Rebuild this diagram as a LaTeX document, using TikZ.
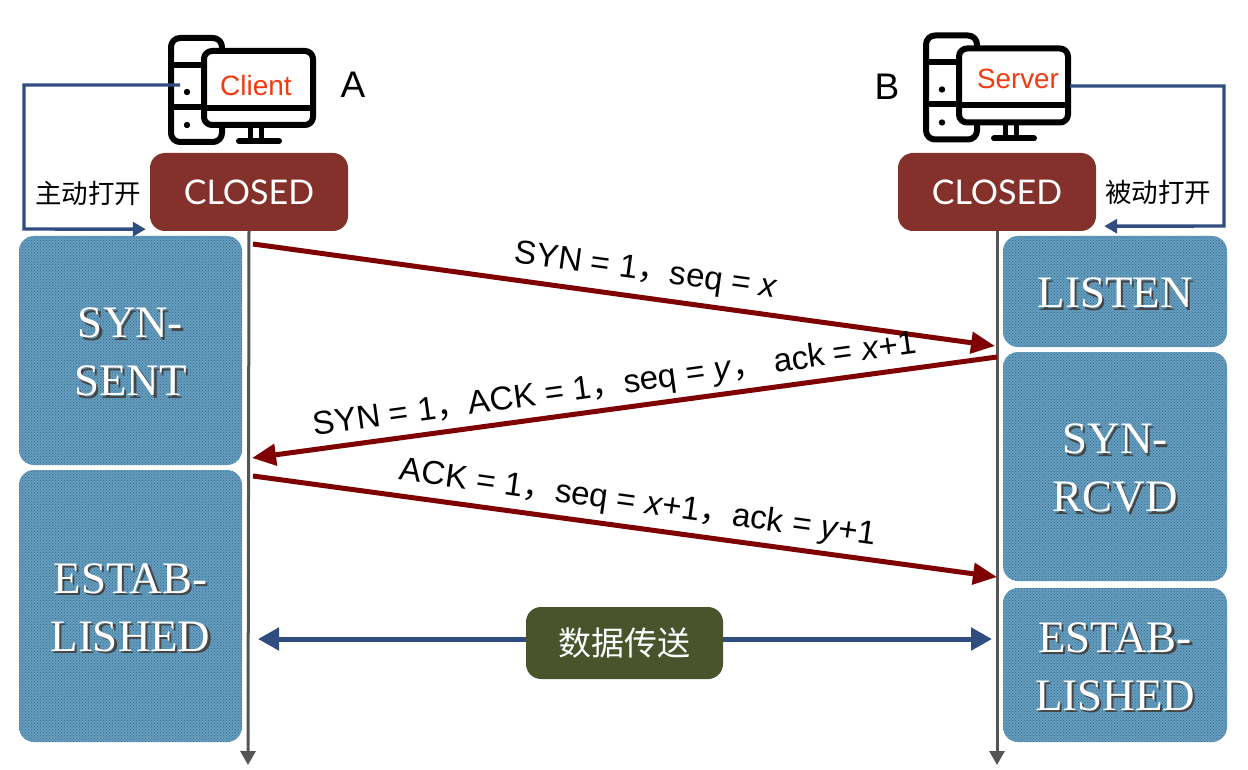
\documentclass[tikz,border=0pt]{standalone}
\usepackage{fontspec}
\setmainfont{Liberation Sans}
\newfontfamily\cjkfont{Noto Sans CJK SC}
\newfontfamily\latofont{Lato}
\newfontfamily\serifcaps{Liberation Serif}
\usetikzlibrary{arrows.meta,patterns,calc}
\definecolor{navyline}{HTML}{2F4D7E}
\definecolor{darkred}{HTML}{7F0000}
\definecolor{closedred}{HTML}{85312B}
\definecolor{lifegray}{HTML}{555555}
\definecolor{olivebox}{HTML}{49532C}
\definecolor{stateblue}{HTML}{669DBD}
\definecolor{statedot}{HTML}{2F6C94}
\definecolor{iconred}{HTML}{F03A12}
\definecolor{shadowgray}{HTML}{454545}
\newcommand{\shadowed}[1]{\leavevmode\rlap{\kern2.4pt\raisebox{-2.4pt}{\textcolor{shadowgray}{#1}}}\textcolor{white}{#1}}
\newcommand{\cm}{{\cjkfont ，}}
\tikzset{
  x=1pt,y=-1pt,
  closedbox/.style={draw=none,fill=closedred,rounded corners=15pt,text=white,font=\latofont\fontsize{34}{38}\selectfont,inner sep=0pt},
  statebox/.style={rounded corners=15pt,fill=stateblue,postaction={pattern=crosshatch dots,pattern color=statedot},inner sep=0pt,align=center,font=\serifcaps\fontsize{45}{58}\selectfont},
  statetext/.style={yshift=-3pt},
  lifeline/.style={draw=lifegray,line width=3pt,-{Triangle[length=14pt,width=15pt]}},
  msg/.style={draw=darkred,line width=5pt,-{Triangle[length=24pt,width=21pt]}},
  loopline/.style={draw=navyline,line width=3.4pt,-{Triangle[length=13pt,width=14pt]}},
  databar/.style={draw=navyline,line width=5pt,{Triangle[length=21pt,width=22pt]}-{Triangle[length=21pt,width=22pt]}},
  msglabel/.style={font=\fontsize{33}{38}\selectfont,inner sep=0pt},
  iconline/.style={draw=black,line width=6pt,line join=round},
  cnlabel/.style={font=\cjkfont\fontsize{26.5}{30}\selectfont,inner sep=0pt},
}
\newcommand{\computer}[2]{%
  \begin{scope}[shift={(#1,#2)}]
    \draw[iconline,rounded corners=9pt] (171,38) rectangle (222,142);
    \draw[iconline] (171,65) -- (222,65);
    \draw[iconline] (171,107) -- (222,107);
    \fill (187,92) circle (3.2pt);
    \fill (187,125) circle (3.2pt);
    \draw[iconline,rounded corners=8pt,fill=white] (204,51) rectangle (313,125);
    \draw[iconline] (204,108) -- (313,108);
    \draw[draw=black,line width=5pt] (250,125) -- (250,140);
    \draw[draw=black,line width=5pt] (261,125) -- (261,140);
    \draw[draw=black,line width=6pt,line cap=round] (239,141) -- (279,141);
  \end{scope}}
\begin{document}
\begin{tikzpicture}
\useasboundingbox (0,0) rectangle (1248,770);
% state boxes
\path[statebox] (19,236) rectangle node[statetext] (sent) {\shadowed{SYN-}\\\shadowed{SENT}} (242,465);
\path[statebox] (19,470) rectangle node[statetext] (estl) {\shadowed{ESTAB-}\\\shadowed{LISHED}} (242,742);
\path[statebox] (1003,236) rectangle node[statetext] (listen) {\shadowed{LISTEN}} (1227,347);
\path[statebox] (1003,352) rectangle node[statetext] (rcvd) {\shadowed{SYN-}\\\shadowed{RCVD}} (1227,581);
\path[statebox] (1003,588) rectangle node[statetext] (estr) {\shadowed{ESTAB-}\\\shadowed{LISHED}} (1227,742);
% closed boxes
\node[closedbox,minimum width=198pt,minimum height=78pt] (ca) at (249,192) {CLOSED};
\node[closedbox,minimum width=198pt,minimum height=78pt] (cb) at (997,192) {CLOSED};
% coordinates
\coordinate (aend) at (248,765);
\coordinate (bend) at (997,765);
\coordinate (m1s) at (253,244);
\coordinate (m1e) at (995,346);
\coordinate (m2s) at (997,357);
\coordinate (m2e) at (252,458);
\coordinate (m3s) at (253,476);
\coordinate (m3e) at (997,577);
\coordinate (clientport) at (180,85);
\coordinate (serverport) at (1070,86);
\coordinate (d1) at (258,639);
\coordinate (d2) at (992,639);
% connectors beneath icons
\draw[lifeline] (ca.south) -- (aend);
\draw[lifeline] (cb.south) -- (bend);
\draw[msg] (m1s) -- (m1e);
\draw[msg] (m2s) -- (m2e);
\draw[msg] (m3s) -- (m3e);
\draw[databar] (d1) -- (d2);
% icons
\computer{0}{0}
\computer{755}{-2.5}
\node[inner sep=0pt,text=iconred,font=\fontsize{28}{32}\selectfont] (client) at (256,85) {Client};
\node[inner sep=0pt,text=iconred,font=\fontsize{27.8}{32}\selectfont] (server) at (1018,79) {Server};
\draw[loopline] (clientport) -- (24,85) -- (24,229) -- ($(ca.south west)+(-4,-2)$);
\draw[loopline] (serverport) -- (1224,86) -- (1224,226) -- ($(cb.south east)+(8,-5)$);
\node[inner sep=0pt,font=\fontsize{37}{42}\selectfont] (la) at (353,85) {A};
\node[inner sep=0pt,font=\fontsize{37}{42}\selectfont] (lb) at (887,87) {B};
\node[cnlabel] (open1) at (88,193) {主动打开};
\node[cnlabel] (open2) at (1158,192) {被动打开};
% labels
\node[msglabel,rotate=-7.8] (t1) at (646,272) {SYN = 1\cm seq = \textit{x}};
\node[msglabel,rotate=7.8] (t2) at (615,386) {SYN = 1\cm ACK = 1\cm seq = \textit{y}\cm\ ack = \textit{x}+1};
\node[msglabel,rotate=-7.8] (t3) at (638,504) {ACK = 1\cm seq = \textit{x}+1\cm ack = \textit{y}+1};
% data
\node[fill=olivebox,rounded corners=15pt,minimum width=197pt,minimum height=72pt,inner sep=0pt,text=white,font=\cjkfont\fontsize{33}{38}\selectfont] (data) at (624.5,643) {数据传送};
\end{tikzpicture}
\end{document}
